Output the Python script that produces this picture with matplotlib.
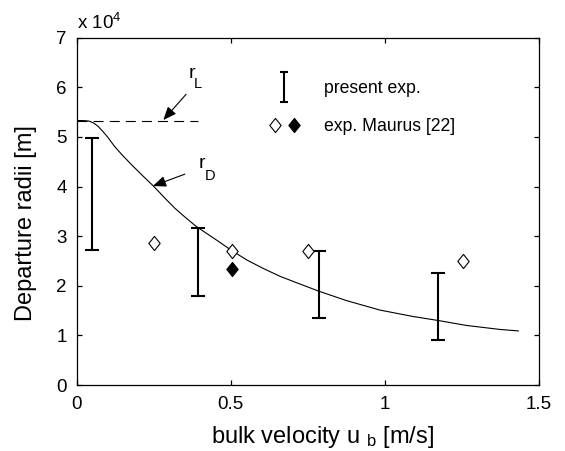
import numpy as np
import matplotlib
matplotlib.use('Agg')
import matplotlib.pyplot as plt
from matplotlib.path import Path
from matplotlib.lines import Line2D
from matplotlib.container import ErrorbarContainer
from matplotlib.legend_handler import HandlerTuple, HandlerErrorbar
from matplotlib.ticker import FuncFormatter

plt.rcParams['font.family'] = ['Liberation Sans', 'DejaVu Sans']
plt.rcParams['mathtext.fontset'] = 'custom'
plt.rcParams['mathtext.rm'] = 'Liberation Sans'
plt.rcParams['mathtext.it'] = 'Liberation Sans:italic'
plt.rcParams['mathtext.bf'] = 'Liberation Sans:bold'

# ---------------- data ----------------
# present experiment: bulk velocity and range of departure radii
exp_u = [0.05, 0.392, 0.785, 1.173]
exp_r_low = [2.72e4, 1.80e4, 1.35e4, 0.91e4]
exp_r_high = [4.97e4, 3.17e4, 2.71e4, 2.26e4]

# Maurus [22] (open and filled diamonds)
maurus_open_u = [0.251, 0.503, 0.752, 1.252]
maurus_open_r = [2.86e4, 2.71e4, 2.70e4, 2.49e4]
maurus_filled_u = [0.503]
maurus_filled_r = [2.34e4]

# model curve r_D
model_u = [0.0, 0.020, 0.040, 0.055, 0.070, 0.085, 0.100, 0.124, 0.150, 0.178,
           0.212, 0.249, 0.284, 0.319, 0.354, 0.389, 0.454, 0.503,
           0.552, 0.605, 0.660, 0.714, 0.786, 0.876, 0.984, 1.092, 1.173,
           1.265, 1.373, 1.433]
model_r = [5.33e4, 5.33e4, 5.32e4, 5.28e4, 5.21e4, 5.11e4, 5.00e4, 4.80e4,
           4.62e4, 4.44e4, 4.23e4, 4.01e4, 3.78e4, 3.56e4, 3.37e4, 3.19e4,
           2.92e4, 2.71e4, 2.52e4, 2.35e4, 2.19e4, 2.06e4, 1.89e4, 1.70e4,
           1.51e4, 1.38e4, 1.30e4, 1.20e4, 1.12e4, 1.09e4]

# r_L level (dashed)
rL_u = [0.0, 0.392]
rL_r = [5.33e4, 5.33e4]

x_ticks = [0, 0.5, 1, 1.5]
y_ticks = [0, 1e4, 2e4, 3e4, 4e4, 5e4, 6e4, 7e4]

# ---------------- figure ----------------
fig = plt.figure(figsize=(5.65, 4.51), dpi=100)
ax = fig.add_axes([76.7 / 565, (451 - 385) / 451, 462.3 / 565, 347.3 / 451])

ax.plot(model_u, model_r, color='black', lw=0.8)
ax.plot(rL_u, rL_r, color='black', lw=0.8, dashes=(9, 5.5))

center = [(a + b) / 2 for a, b in zip(exp_r_low, exp_r_high)]
err = [[c - a for c, a in zip(center, exp_r_low)],
       [b - c for b, c in zip(exp_r_high, center)]]
eb = ax.errorbar(exp_u, center, yerr=err, fmt='none', ecolor='black',
                 elinewidth=1.5, capsize=4.7, capthick=1.5)

diamond = Path([(0, 1), (0.8, 0), (0, -1), (-0.8, 0), (0, 1)],
               [Path.MOVETO, Path.LINETO, Path.LINETO, Path.LINETO, Path.CLOSEPOLY])
h_open, = ax.plot(maurus_open_u, maurus_open_r, linestyle='none', marker=diamond,
                  markersize=10.2, markerfacecolor='white', markeredgecolor='black',
                  markeredgewidth=0.8)
h_filled, = ax.plot(maurus_filled_u, maurus_filled_r, linestyle='none', marker=diamond,
                    markersize=10.2, markerfacecolor='black', markeredgecolor='black',
                    markeredgewidth=0.8)

ax.set_xlim(0, 1.5)
ax.set_ylim(0, 7e4)
ax.set_xticks(x_ticks)
ax.set_yticks(y_ticks)
ax.xaxis.set_major_formatter(FuncFormatter(lambda v, p: f'{v:g}'))
ax.yaxis.set_major_formatter(FuncFormatter(lambda v, p: f'{v / 1e4:g}'))
ax.tick_params(direction='in', length=3.6, width=0.9, top=True, right=True,
               labelsize=13.5)
ax.tick_params(axis='x', pad=8.0)
ax.tick_params(axis='y', pad=7.0)
for s in ax.spines.values():
    s.set_linewidth(0.9)

ax.text(0.0, 1.025, r'x 10$^{\mathregular{4}}$', transform=ax.transAxes,
        fontsize=13.5, ha='left', va='baseline')

ax.set_xlabel(r'bulk velocity u $_{\mathregular{b}}$ [m/s]', fontsize=17)
ax.xaxis.set_label_coords(0.532, -0.111)
ax.set_ylabel('Departure radii [m]', fontsize=17)
ax.yaxis.set_label_coords(-0.086, 0.4656)

# annotations
arrow = dict(arrowstyle='-|>,head_length=0.8,head_width=0.33', color='black',
             lw=0.8, shrinkA=0, shrinkB=0, mutation_scale=10)
ax.annotate('', xy=(0.281, 5.34e4), xytext=(0.355, 5.86e4), arrowprops=arrow)
ax.text(0.362, 6.19e4, 'r', fontsize=14)
ax.text(0.379, 5.99e4, 'L', fontsize=10.5)
ax.annotate('', xy=(0.247, 4.01e4), xytext=(0.351, 4.25e4), arrowprops=arrow)
ax.text(0.395, 4.37e4, 'r', fontsize=14)
ax.text(0.414, 4.13e4, 'D', fontsize=10.5)

leg = ax.legend([eb, (h_open, h_filled)], ['present exp.', 'exp. Maurus [22]'],
                handler_map={tuple: HandlerTuple(ndivide=None, pad=0),
                             ErrorbarContainer: HandlerErrorbar(xerr_size=0.5, yerr_size=0.86)},
                loc='center left', bbox_to_anchor=(0.4073, 0.798), frameon=False,
                fontsize=12.7, handlelength=2.16, handletextpad=1.2,
                labelspacing=1.18, borderpad=0, borderaxespad=0, numpoints=1)
for ln in leg.findobj(Line2D):
    if ln.get_marker() == '_':
        ln.set_markersize(5.8)

fig.savefig('out.png', dpi=100)
